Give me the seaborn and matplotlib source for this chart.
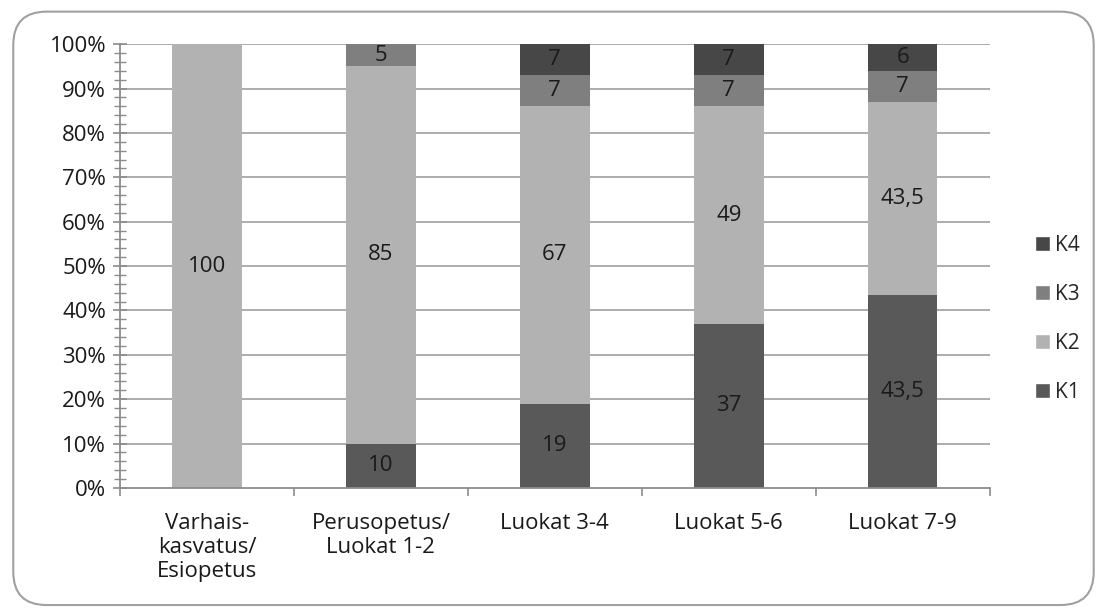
import matplotlib
matplotlib.use('Agg')
import matplotlib.pyplot as plt
import seaborn as sns
import pandas as pd
from matplotlib.patches import FancyBboxPatch, Patch
from matplotlib.ticker import MultipleLocator, FixedLocator

categories = ["Varhais-\nkasvatus/\nEsiopetus", "Perusopetus/\nLuokat 1-2",
              "Luokat 3-4", "Luokat 5-6", "Luokat 7-9"]
series = ["K1", "K2", "K3", "K4"]
k1 = [0, 10, 19, 37, 43.5]
k2 = [100, 85, 67, 49, 43.5]
k3 = [0, 5, 7, 7, 7]
k4 = [0, 0, 7, 7, 6]
colors = {"K1": "#595959", "K2": "#b2b2b2", "K3": "#7f7f7f", "K4": "#474747"}

sns.set_theme(style="white")
plt.rcParams['font.family'] = ['Open Sans', 'DejaVu Sans']

df = pd.DataFrame({"cat": categories, "K1": k1, "K2": k2, "K3": k3, "K4": k4})

fig = plt.figure(figsize=(11.07, 6.13), dpi=100)
ax = fig.add_axes([0.1084, 0.204, 0.7856, 0.724])

# rounded frame around the chart
frame = FancyBboxPatch((0.012, 0.013), 0.976, 0.968, boxstyle="round,pad=0,rounding_size=0.03",
                       transform=fig.transFigure, fill=False, edgecolor="#a0a0a0", linewidth=1.5,
                       mutation_aspect=1107 / 613)
fig.patches.append(frame)

for y in range(10, 101, 10):
    ax.axhline(y, color="#a6a6a6", linewidth=1.3, zorder=0)

FS = 16
bottom = [0] * len(categories)
for s in series:
    vals = df[s].tolist()
    sns.barplot(x=df["cat"], y=vals, bottom=bottom, color=colors[s], width=0.4,
                saturation=1, ax=ax, zorder=2, linewidth=0, edgecolor="none")
    for i, v in enumerate(vals):
        if v > 0:
            txt = ("%g" % v).replace(".", ",")
            ax.text(i, bottom[i] + v / 2, txt, ha="center", va="center",
                    fontsize=FS, color="#1a1a1a", zorder=3)
    bottom = [b + v for b, v in zip(bottom, vals)]

ax.set_ylim(0, 100)
ax.set_xlim(-0.5, 4.5)
ax.set_yticks(range(0, 101, 10))
ax.yaxis.set_minor_locator(MultipleLocator(2))
ax.set_yticklabels([f"{v}%" for v in range(0, 101, 10)], fontsize=FS, color="#1a1a1a")
ax.tick_params(axis="y", which="both", left=True)
ax.tick_params(axis="y", which="major", direction="inout", length=10, width=1.2, color="#8c8c8c", pad=5)
ax.tick_params(axis="y", which="minor", direction="inout", length=8, width=1, color="#8c8c8c")
ax.set_xticks(range(len(categories)))
ax.set_xticklabels(categories, fontsize=FS, color="#1a1a1a", linespacing=1.2, va="top")
ax.tick_params(axis="x", which="major", length=0, pad=18)
ax.xaxis.set_minor_locator(FixedLocator([-0.5, 0.5, 1.5, 2.5, 3.5, 4.5]))
ax.tick_params(axis="x", which="minor", bottom=True, direction="out", length=6, width=1.2, color="#8c8c8c")
ax.set_xlabel("")
ax.set_ylabel("")

for side in ["top", "right"]:
    ax.spines[side].set_visible(False)
for side in ["left", "bottom"]:
    ax.spines[side].set_color("#8c8c8c")
    ax.spines[side].set_linewidth(1.3)

handles = [Patch(facecolor=colors[s], label=s) for s in reversed(series)]
fig.legend(handles=handles, loc="center left", bbox_to_anchor=(0.935, 0.48), frameon=False,
           fontsize=FS - 1, handlelength=0.7, handleheight=0.7, handletextpad=0.25, labelspacing=1.35,
           borderpad=0, borderaxespad=0)

fig.savefig("out.png", dpi=100, facecolor="white")
